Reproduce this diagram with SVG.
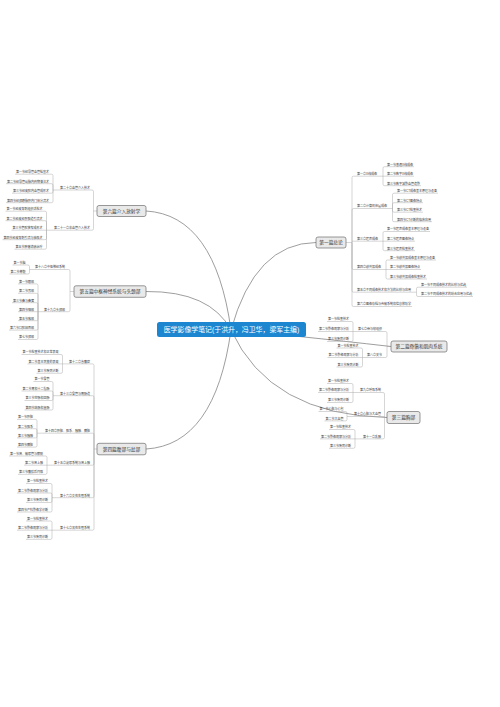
<svg xmlns="http://www.w3.org/2000/svg" width="500" height="707" viewBox="0 0 500 707">
<style>
text{font-family:"Liberation Sans","Noto Sans CJK SC",sans-serif;font-size:3px;fill:#3a3a3a}
.e{text-anchor:end}
.n{font-size:4.7px;fill:#333;text-anchor:middle}
.r{font-size:6.9px;fill:#fff;text-anchor:middle}
.b{fill:#e9e9e9;stroke:#6e6e6e;stroke-width:0.7}
.m{fill:none;stroke:#858585;stroke-width:0.8}
.l{fill:none;stroke:#a3a3a3;stroke-width:0.45}
</style>
<rect width="500" height="707" fill="#fff"/>
<g id="connectors">
<path class="m" d="M231 330 Q215 215 146 211M231 330 Q210 291 146 291.5M231 330 Q215 445 146 449M231 330 Q255 243 316 242.5M231 330 Q290 335 391 346.5M231 330 Q270 415 387 417.5"/>
<path class="l" d="M346 242.5 H352M352 242.5 V177.7 Q352 176.2 353.5 176.2 H383M352 242.5 V210 Q352 208.5 353.5 208.5 H392.5M352 241.2 H383M352 242.5 V268 Q352 269.5 353.5 269.5 H386M352 242.5 V290.7 Q352 292.2 353.5 292.2 H416.5M352 242.5 V305 Q352 306.5 353.5 306.5 H412
M383 176.2 V168.2 Q383 166.7 384.5 166.7 H414M383 176.2 H414M383 176.2 V184.2 Q383 185.7 384.5 185.7 H421
M392.5 208.5 V194.7 Q392.5 193.2 394 193.2 H438M392.5 208.5 V204.2 Q392.5 202.7 394 202.7 H423M392.5 208.5 V210.7 Q392.5 212.2 394 212.2 H423M392.5 208.5 V220.2 Q392.5 221.7 394 221.7 H432
M383 241.2 V233 Q383 231.5 384.5 231.5 H430M383 241.2 H415M383 241.2 V249.2 Q383 250.7 384.5 250.7 H415
M386 269.5 V261.5 Q386 260 387.5 260 H436M386 269.5 H421M386 269.5 V277.5 Q386 279 387.5 279 H427
M416.5 292.2 V288.7 Q416.5 287.2 418 287.2 H467M416.5 292.2 V295 Q416.5 296.5 418 296.5 H473"/>
<path class="l" d="M391 346.5 H387M387 346.5 V333 Q387 331.5 385.5 331.5 H353M387 346.5 V356 Q387 357.5 385.5 357.5 H362.5
M353 331.5 V323 Q353 321.5 351.5 321.5 H327M353 331.5 H318M353 331.5 V340 Q353 341.5 351.5 341.5 H327
M362.5 357.5 V349.5 Q362.5 348 361 348 H336.5M362.5 357.5 H327.5M362.5 357.5 V365.5 Q362.5 367 361 367 H336.5"/>
<path class="l" d="M387 417.5 H384.5M384.5 417.5 V394 Q384.5 392.5 383 392.5 H353M384.5 416.5 H347M384.5 417.5 V437.4 Q384.5 438.9 383 438.9 H355
M353 392.5 V385 Q353 383.5 351.5 383.5 H327M353 392.5 H318M353 392.5 V401 Q353 402.5 351.5 402.5 H327
M347 416.5 V413 Q347 411.5 345.5 411.5 H318.5M347 416.5 V419.4 Q347 420.9 345.5 420.9 H324.5
M355 438.9 V431 Q355 429.5 353.5 429.5 H329M355 438.9 H320M355 438.9 V446.8 Q355 448.3 353.5 448.3 H329"/>
<path class="l" d="M97 211 H93.5M93.5 211 V191.5 Q93.5 190 92 190 H53M93.5 211 V228.7 Q93.5 230.2 92 230.2 H46.5
M53 190 V175.7 Q53 174.2 51.5 174.2 H15M53 190 V185.2 Q53 183.7 51.5 183.7 H6M53 190 V191.7 Q53 193.2 51.5 193.2 H12M53 190 V201.2 Q53 202.7 51.5 202.7 H6
M46.5 230.2 V212.7 Q46.5 211.2 45 211.2 H5.5M46.5 230.2 V222.2 Q46.5 220.7 45 220.7 H5.5M46.5 230.2 H11.5M46.5 230.2 V238.2 Q46.5 239.7 45 239.7 H2.5M46.5 230.2 V247.7 Q46.5 249.2 45 249.2 H14.5"/>
<path class="l" d="M74 291.5 H70M70 291.5 V271 Q70 269.5 68.5 269.5 H29.5M70 291.5 V310.2 Q70 311.7 68.5 311.7 H38
M29.5 269.5 V266.5 Q29.5 265 28 265 H12.5M29.5 269.5 V272.5 Q29.5 274 28 274 H9.5
M38 311.7 V285.4 Q38 283.9 36.5 283.9 H18M38 311.7 V294.8 Q38 293.3 36.5 293.3 H18M38 311.7 V304.2 Q38 302.7 36.5 302.7 H12M38 311.7 H18M38 311.7 V319.2 Q38 320.7 36.5 320.7 H18M38 311.7 V328.6 Q38 330.1 36.5 330.1 H9M38 311.7 V338 Q38 339.5 36.5 339.5 H18"/>
<path class="l" d="M97 449 H94M94 449 V365.4 Q94 363.9 92.5 363.9 H62.5M94 449 V397.2 Q94 395.7 92.5 395.7 H53M94 449 V434.7 Q94 433.2 92.5 433.2 H37M94 449 V463.7 Q94 465.2 92.5 465.2 H47M94 449 V496.2 Q94 497.7 92.5 497.7 H52M94 449 V528.7 Q94 530.2 92.5 530.2 H52
M62.5 363.9 V356 Q62.5 354.5 61 354.5 H21.5M62.5 363.9 H27.5M62.5 363.9 V371.8 Q62.5 373.3 61 373.3 H36.5
M53 395.7 V383 Q53 381.5 51.5 381.5 H33.5M53 395.7 V392.5 Q53 391 51.5 391 H21.5M53 395.7 V399 Q53 400.5 51.5 400.5 H24.5M53 395.7 V408.5 Q53 410 51.5 410 H24.5
M37 433.2 V420.9 Q37 419.4 35.5 419.4 H17M37 433.2 V430.2 Q37 428.7 35.5 428.7 H17M37 433.2 V436.4 Q37 437.9 35.5 437.9 H17M37 433.2 V445.6 Q37 447.1 35.5 447.1 H17
M47 465.2 V457.5 Q47 456 45.5 456 H9M47 465.2 H24M47 465.2 V472.9 Q47 474.4 45.5 474.4 H18
M52 497.7 V485 Q52 483.5 50.5 483.5 H26M52 497.7 V494.5 Q52 493 50.5 493 H17M52 497.7 V501 Q52 502.5 50.5 502.5 H26M52 497.7 V510.5 Q52 512 50.5 512 H17
M52 530.2 V522.5 Q52 521 50.5 521 H26M52 530.2 H17M52 530.2 V537.9 Q52 539.4 50.5 539.4 H26"/>
</g>
<g id="root"><rect x="157" y="322" width="149" height="15" rx="2.5" fill="#1d86d0"/><text class="r" x="231.5" y="332.1">医学影像学笔记(于洪升，冯卫华，梁军主编)</text></g>

<g id="n1"><rect class="b" x="316" y="237" width="30" height="11" rx="2"/><text class="n" x="331" y="244.3">第一篇总论</text></g>
<g id="n1-1"><text x="357" y="175.1">第一章X线成像</text></g>
<g id="n1-1-1"><text x="387" y="165.6">第一节普通X线成像</text></g>
<g id="n1-1-2"><text x="387" y="175.1">第二节数字X线成像</text></g>
<g id="n1-1-3"><text x="387" y="184.6">第三节数字减影血管造影</text></g>
<g id="n1-2"><text x="357" y="207.4">第二章计算机体层成像</text></g>
<g id="n1-2-1"><text x="397" y="192.1">第一节CT成像基本原理与设备</text></g>
<g id="n1-2-2"><text x="397" y="201.6">第二节CT图像特点</text></g>
<g id="n1-2-3"><text x="397" y="211.1">第三节CT检查技术</text></g>
<g id="n1-2-4"><text x="397" y="220.6">第四节CT诊断的临床应用</text></g>
<g id="n1-3"><text x="357" y="240.1">第三章超声成像</text></g>
<g id="n1-3-1"><text x="387" y="230.4">第一节超声成像基本原理与设备</text></g>
<g id="n1-3-2"><text x="387" y="240.1">第二节超声图像特点</text></g>
<g id="n1-3-3"><text x="387" y="249.6">第三节超声检查技术</text></g>
<g id="n1-4"><text x="357" y="268.4">第四章磁共振成像</text></g>
<g id="n1-4-1"><text x="390" y="258.9">第一节磁共振成像基本原理与设备</text></g>
<g id="n1-4-2"><text x="390" y="268.4">第二节磁共振图像特点</text></g>
<g id="n1-4-3"><text x="390" y="277.9">第三节磁共振成像检查技术</text></g>
<g id="n1-5"><text x="357" y="291.1">第五章不同成像技术和方法的比较与应用</text></g>
<g id="n1-5-1"><text x="421" y="286.1">第一节不同成像技术的比较与优选</text></g>
<g id="n1-5-2"><text x="421" y="295.4">第二节不同成像技术的综合应用与优选</text></g>
<g id="n1-6"><text x="357" y="305.4">第六章图像存档与传输系统和信息放射学</text></g>

<g id="n2"><rect class="b" x="391" y="341" width="56" height="11" rx="2"/><text class="n" x="419" y="348.3">第二篇骨骼和肌肉系统</text></g>
<g id="n2-1"><text class="e" x="382" y="330.4">第七章骨与软组织</text></g>
<g id="n2-1-1"><text class="e" x="349" y="320.4">第一节检查技术</text></g>
<g id="n2-1-2"><text class="e" x="349" y="330.4">第二节影像观察与分析</text></g>
<g id="n2-1-3"><text class="e" x="349" y="340.4">第三节疾病诊断</text></g>
<g id="n2-2"><text class="e" x="382" y="356.4">第八章关节</text></g>
<g id="n2-2-1"><text class="e" x="358.5" y="346.9">第一节检查技术</text></g>
<g id="n2-2-2"><text class="e" x="358.5" y="356.4">第二节影像观察与分析</text></g>
<g id="n2-2-3"><text class="e" x="358.5" y="365.9">第三节疾病诊断</text></g>

<g id="n3"><rect class="b" x="387" y="411.5" width="33" height="12" rx="2"/><text class="n" x="403.5" y="419.3">第三篇胸部</text></g>
<g id="n3-1"><text class="e" x="381" y="391.4">第九章呼吸系统</text></g>
<g id="n3-1-1"><text class="e" x="349" y="382.4">第一节检查技术</text></g>
<g id="n3-1-2"><text class="e" x="349" y="391.4">第二节影像观察与分析</text></g>
<g id="n3-1-3"><text class="e" x="349" y="401.4">第三节疾病诊断</text></g>
<g id="n3-2"><text class="e" x="381" y="415.4">第十章心脏与大血管</text></g>
<g id="n3-2-1"><text class="e" x="343.5" y="410.4">第一节心脏与心包</text></g>
<g id="n3-2-2"><text class="e" x="343.5" y="419.8">第二节大血管</text></g>
<g id="n3-3"><text class="e" x="381" y="437.8">第十一章乳腺</text></g>
<g id="n3-3-1"><text class="e" x="351" y="428.4">第一节检查技术</text></g>
<g id="n3-3-2"><text class="e" x="351" y="437.8">第二节影像观察与分析</text></g>
<g id="n3-3-3"><text class="e" x="351" y="447.2">第三节疾病诊断</text></g>

<g id="n6"><rect class="b" x="97" y="205.5" width="49" height="11" rx="2"/><text class="n" x="121.5" y="212.8">第六篇介入放射学</text></g>
<g id="n6-1"><text class="e" x="90" y="188.9">第二十章血管介入技术</text></g>
<g id="n6-1-1"><text class="e" x="49" y="173.1">第一节经导管血管栓塞术</text></g>
<g id="n6-1-2"><text class="e" x="49" y="182.6">第二节经导管动脉内药物灌注术</text></g>
<g id="n6-1-3"><text class="e" x="49" y="192.1">第三节经皮腔内血管成形术</text></g>
<g id="n6-1-4"><text class="e" x="49" y="201.6">第四节经颈静脉肝内门体分流术</text></g>
<g id="n6-2"><text class="e" x="90" y="229.1">第二十一章非血管介入技术</text></g>
<g id="n6-2-1"><text class="e" x="42.5" y="210.1">第一节经皮穿刺组织活检术</text></g>
<g id="n6-2-2"><text class="e" x="42.5" y="219.6">第二节经皮经肝胆道引流术</text></g>
<g id="n6-2-3"><text class="e" x="42.5" y="229.1">第三节管腔狭窄成形术</text></g>
<g id="n6-2-4"><text class="e" x="42.5" y="238.6">第四节经皮穿刺引流与抽吸术</text></g>
<g id="n6-2-5"><text class="e" x="42.5" y="248.1">第五节肿瘤消融治疗</text></g>

<g id="n5"><rect class="b" x="74" y="285.8" width="72" height="11.5" rx="2"/><text class="n" x="110" y="293.3">第五篇中枢神经系统与头颈部</text></g>
<g id="n5-1"><text class="e" x="65" y="268.4">第十八章中枢神经系统</text></g>
<g id="n5-1-1"><text class="e" x="25.5" y="263.9">第一节脑</text></g>
<g id="n5-1-2"><text class="e" x="25.5" y="272.9">第二节脊髓</text></g>
<g id="n5-2"><text class="e" x="65" y="310.6">第十九章头颈部</text></g>
<g id="n5-2-1"><text class="e" x="34" y="282.8">第一节眼部</text></g>
<g id="n5-2-2"><text class="e" x="34" y="292.2">第二节耳部</text></g>
<g id="n5-2-3"><text class="e" x="34" y="301.6">第三节鼻与鼻窦</text></g>
<g id="n5-2-4"><text class="e" x="34" y="310.6">第四节咽部</text></g>
<g id="n5-2-5"><text class="e" x="34" y="319.6">第五节喉部</text></g>
<g id="n5-2-6"><text class="e" x="34" y="329">第六节口腔颌面部</text></g>
<g id="n5-2-7"><text class="e" x="34" y="338.4">第七节颈部</text></g>

<g id="n4"><rect class="b" x="97" y="443.3" width="49" height="11.5" rx="2"/><text class="n" x="121.5" y="450.8">第四篇腹部与盆部</text></g>
<g id="n4-1"><text class="e" x="90" y="362.8">第十二章急腹症</text></g>
<g id="n4-1-1"><text class="e" x="58.5" y="353.4">第一节检查技术和正常表现</text></g>
<g id="n4-1-2"><text class="e" x="58.5" y="362.8">第二节基本病变的表现</text></g>
<g id="n4-1-3"><text class="e" x="58.5" y="372.2">第三节疾病诊断</text></g>
<g id="n4-2"><text class="e" x="90" y="394.6">第十三章食管与胃肠道</text></g>
<g id="n4-2-1"><text class="e" x="49.5" y="380.4">第一节食管</text></g>
<g id="n4-2-2"><text class="e" x="49.5" y="389.9">第二节胃和十二指肠</text></g>
<g id="n4-2-3"><text class="e" x="49.5" y="399.4">第三节空肠和回肠</text></g>
<g id="n4-2-4"><text class="e" x="49.5" y="408.9">第四节结肠和直肠</text></g>
<g id="n4-3"><text class="e" x="90" y="432.1">第十四章肝脏、胆系、胰腺、脾脏</text></g>
<g id="n4-3-1"><text class="e" x="33" y="418.3">第一节肝脏</text></g>
<g id="n4-3-2"><text class="e" x="33" y="427.6">第二节胆系</text></g>
<g id="n4-3-3"><text class="e" x="33" y="436.8">第三节胰腺</text></g>
<g id="n4-3-4"><text class="e" x="33" y="446">第四节脾脏</text></g>
<g id="n4-4"><text class="e" x="90" y="464.1">第十五章泌尿系统与肾上腺</text></g>
<g id="n4-4-1"><text class="e" x="43" y="454.9">第一节肾、输尿管与膀胱</text></g>
<g id="n4-4-2"><text class="e" x="43" y="464.1">第二节肾上腺</text></g>
<g id="n4-4-3"><text class="e" x="43" y="473.3">第三节腹膜后间隙</text></g>
<g id="n4-5"><text class="e" x="90" y="496.6">第十六章女性生殖系统</text></g>
<g id="n4-5-1"><text class="e" x="48" y="482.4">第一节检查技术</text></g>
<g id="n4-5-2"><text class="e" x="48" y="491.9">第二节影像观察与分析</text></g>
<g id="n4-5-3"><text class="e" x="48" y="501.4">第三节疾病诊断</text></g>
<g id="n4-5-4"><text class="e" x="48" y="510.9">第四节产科影像学诊断</text></g>
<g id="n4-6"><text class="e" x="90" y="529.1">第十七章男性生殖系统</text></g>
<g id="n4-6-1"><text class="e" x="48" y="519.9">第一节检查技术</text></g>
<g id="n4-6-2"><text class="e" x="48" y="529.1">第二节影像观察与分析</text></g>
<g id="n4-6-3"><text class="e" x="48" y="538.3">第三节疾病诊断</text></g>
</svg>
